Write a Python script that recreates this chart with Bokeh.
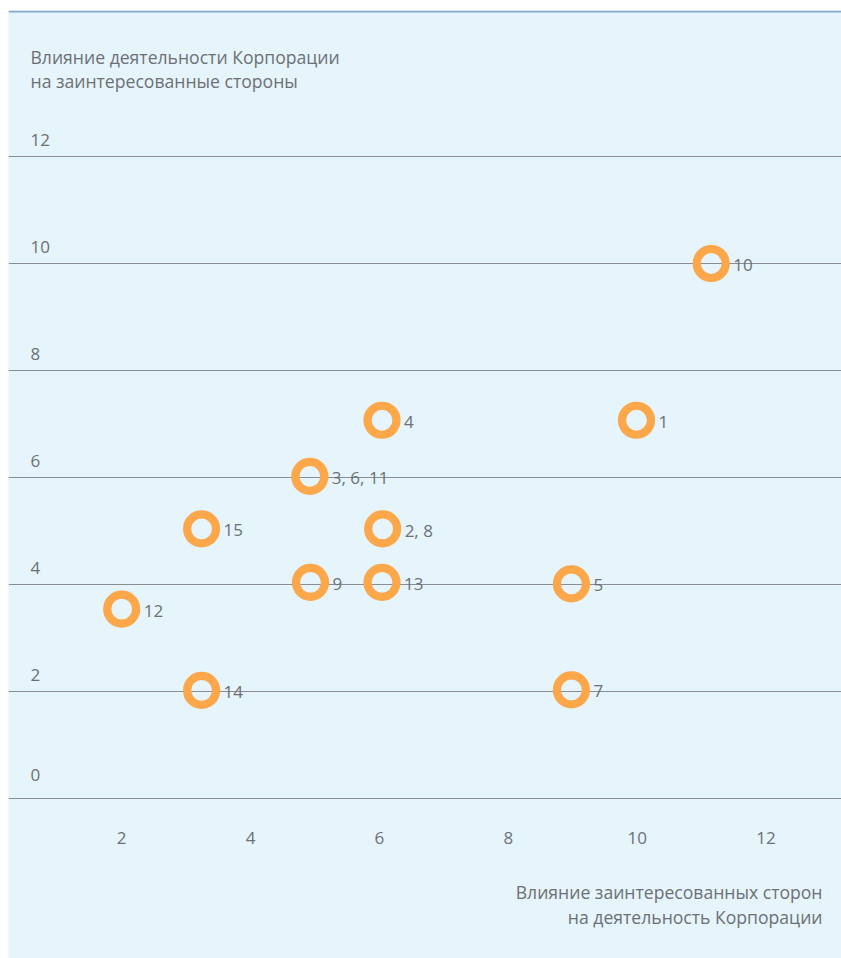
from bokeh.plotting import figure
from bokeh.models import Range1d, FixedTicker, Span, Label, ColumnDataSource
from bokeh.core.properties import value
from bokeh.embed import file_html
from bokeh.resources import INLINE

# ---- data ----
x_ticks = [2, 4, 6, 8, 10, 12]
y_ticks = [0, 2, 4, 6, 8, 10, 12]
pt_x = [2, 3.24, 3.24, 4.92, 4.93, 6.04, 6.05, 6.04, 8.98, 8.98, 9.99, 11.15]
pt_y = [3.54, 5.04, 2.02, 6.02, 4.04, 7.07, 5.04, 4.04, 4.01, 2.03, 7.07, 10.0]
pt_labels = ["12", "15", "14", "3, 6, 11", "9", "4", "2, 8", "13", "5", "7", "1", "10"]
y_title = ["Влияние деятельности Корпорации", "на заинтересованные стороны"]
x_title = ["Влияние заинтересованных сторон", "на деятельность Корпорации"]

FONT = "Open Sans"
TXT = "#6d7075"
BG = "#e6f4fb"
W, H = 841, 958

p = figure(width=W, height=H, output_backend="svg", toolbar_location=None,
           x_axis_location=None, y_axis_location=None,
           x_range=Range1d(0.243, 13.172), y_range=Range1d(-2.991, 14.729),
           min_border_left=8, min_border_right=0, min_border_bottom=0, min_border_top=10)
p.background_fill_color = BG
p.border_fill_color = "white"
p.outline_line_color = None
p.xgrid.visible = False
p.ygrid.ticker = FixedTicker(ticks=y_ticks)
p.ygrid.grid_line_color = "#8a8e94"
p.ygrid.grid_line_width = 1.2

p.add_layout(Span(location=14.729 - 0.02, dimension="width", line_color="#86a8cc", line_width=2))

# y tick labels (above gridlines)
y_off = [-23 if t == 0 else -16 for t in y_ticks]
p.text(x=[0.243] * len(y_ticks), y=y_ticks, text=[str(t) for t in y_ticks],
       x_offset=22, y_offset=y_off, text_align="left", text_baseline="middle",
       text_font=value(FONT), text_font_size="17px", text_color=TXT)

# x tick labels (below zero line)
p.text(x=x_ticks, y=[0] * len(x_ticks), text=[str(t) for t in x_ticks],
       y_offset=40, text_align="center", text_baseline="middle",
       text_font=value(FONT), text_font_size="17px", text_color=TXT)

src = ColumnDataSource(dict(x=pt_x, y=pt_y, lab=pt_labels))
p.scatter(x="x", y="y", source=src, size=29, marker="circle", fill_color=None,
          line_color="#fba74a", line_width=8.2)
p.text(x="x", y="y", text="lab", source=src, x_offset=22, y_offset=1.5,
       text_align="left", text_baseline="middle",
       text_font=value(FONT), text_font_size="17px", text_color=TXT)

# axis titles
frame_h = H - 10
for i, line in enumerate(y_title):
    p.add_layout(Label(x=22, y=frame_h - 46.5 - 24 * i, x_units="screen", y_units="screen",
                       text=line, text_align="left", text_baseline="middle",
                       text_font=FONT, text_font_size="17.6px", text_color=TXT))
for i, line in enumerate(x_title):
    p.add_layout(Label(x=814, y=frame_h - 881.5 - 25 * i, x_units="screen", y_units="screen",
                       text=line, text_align="right", text_baseline="middle",
                       text_font=FONT, text_font_size="17.6px", text_color=TXT))

open("out.html", "w").write(file_html(p, INLINE))
